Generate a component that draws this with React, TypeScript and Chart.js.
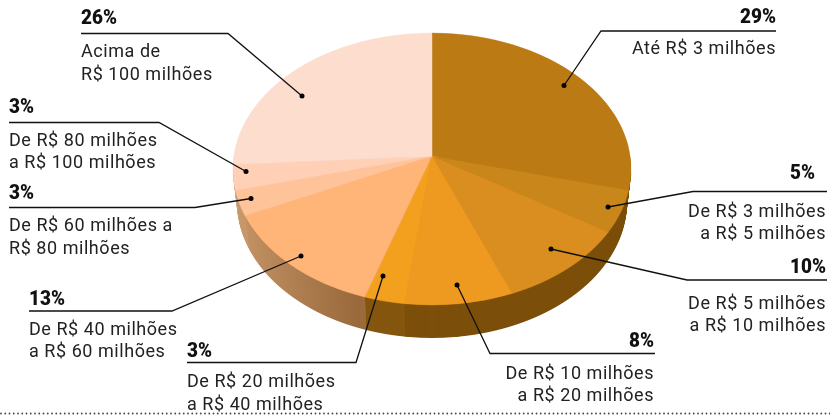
import React, { useEffect, useRef } from "react";
import { Chart, registerables } from "chart.js";

Chart.register(...registerables);

const categories = [
  "Até R$ 3 milhões",
  "De R$ 3 milhões a R$ 5 milhões",
  "De R$ 5 milhões a R$ 10 milhões",
  "De R$ 10 milhões a R$ 20 milhões",
  "De R$ 20 milhões a R$ 40 milhões",
  "De R$ 40 milhões a R$ 60 milhões",
  "De R$ 60 milhões a R$ 80 milhões",
  "De R$ 80 milhões a R$ 100 milhões",
  "Acima de R$ 100 milhões",
];
const shares = [29, 5, 10, 8, 3, 13, 3, 3, 26];
const faceColors = ["#BC7A15", "#C9861A", "#DA8E1F", "#EE9A20", "#F3A01F", "#FFB478", "#FFC39A", "#FFD0B5", "#FDDDCD"];
const wallColors = ["#7C4F0A", "#7C4F0A", "#7C4F0A", "#7C4F0A", "#85560F", "", "#C8986A", "#D0A884", "#D6B8A6"];
const wallGradientStops = ["#C8986A", "#9A6A3C"];
const WALL_GRADIENT_SLICE = 5;

const percentLabels = ["29%", "5%", "10%", "8%", "3%", "13%", "3%", "3%", "26%"];
const labelLines = [
  ["Até R$ 3 milhões"],
  ["De R$ 3 milhões", "a R$ 5 milhões"],
  ["De R$ 5 milhões", "a R$ 10 milhões"],
  ["De R$ 10 milhões", "a R$ 20 milhões"],
  ["De R$ 20 milhões", "a R$ 40 milhões"],
  ["De R$ 40 milhões", "a R$ 60 milhões"],
  ["De R$ 60 milhões a", "R$ 80 milhões"],
  ["De R$ 80 milhões", "a R$ 100 milhões"],
  ["Acima de", "R$ 100 milhões"],
];

// Callout layout: text anchor, rule and leader end for each slice.
type Callout = { align: "left" | "right"; x: number; pctX: number; pctY: number; ruleY: number; ruleEnd: number; ruleX: number; dot: [number, number]; lineY: number[] };
const callouts: Callout[] = [
  { align: "right", x: 776, pctX: 776, pctY: 23, ruleY: 31, ruleX: 776, ruleEnd: 601, dot: [564, 85.5], lineY: [54] },
  { align: "right", x: 826, pctX: 815, pctY: 179, ruleY: 191.5, ruleX: 827, ruleEnd: 693, dot: [608, 207], lineY: [217, 239] },
  { align: "right", x: 826, pctX: 826, pctY: 273, ruleY: 280, ruleX: 827, ruleEnd: 687, dot: [551, 249], lineY: [309, 331] },
  { align: "right", x: 654, pctX: 654, pctY: 347, ruleY: 353.5, ruleX: 655, ruleEnd: 490, dot: [457, 285], lineY: [379, 401] },
  { align: "left", x: 187, pctX: 187, pctY: 357, ruleY: 362.5, ruleX: 187, ruleEnd: 356, dot: [383, 276], lineY: [387, 410] },
  { align: "left", x: 29, pctX: 29, pctY: 305, ruleY: 311, ruleX: 29, ruleEnd: 172, dot: [301, 256], lineY: [335, 357] },
  { align: "left", x: 9, pctX: 9, pctY: 199, ruleY: 207.5, ruleX: 9, ruleEnd: 195, dot: [251, 198.5], lineY: [231, 254] },
  { align: "left", x: 9, pctX: 9, pctY: 113, ruleY: 122.5, ruleX: 9, ruleEnd: 159, dot: [246, 171.5], lineY: [146, 168] },
  { align: "left", x: 81, pctX: 81, pctY: 24, ruleY: 33.5, ruleX: 81, ruleEnd: 228, dot: [302, 96], lineY: [57, 80] },
];

// Perspective of the disc on the page.
const CX = 432;
const APEX_Y = 156;
const RX = 199;
const K = 0.0956;
const B = 134.7;
const DEPTH = 33;
const WALL_SHRINK = 0.02;

function arcOptions(color: any, border: number) {
  return {
    backgroundColor: color,
    borderColor: color,
    borderWidth: border,
    borderAlign: "center",
    borderDash: [],
    borderDashOffset: 0,
    borderRadius: 0,
    circular: true,
    offset: 0,
    spacing: 0,
    selfJoin: false,
  };
}

function drawLayer(chart: any, depth: number, colors: any[], border: number, lowerOnly: boolean) {
  const ctx: CanvasRenderingContext2D = chart.ctx;
  const arcs = chart.getDatasetMeta(0).data as any[];
  if (!arcs.length) return;
  const sx0 = arcs[0].x;
  const sy0 = arcs[0].y;
  const R = arcs[0].outerRadius;
  const a = RX * Math.sqrt(1 - K * K) * (1 - (WALL_SHRINK * depth) / DEPTH);
  const saved = arcs.map((arc) => arc.options);
  arcs.forEach((arc, i) => (arc.options = arcOptions(colors[i], border)));
  for (let y = 0; y < chart.height; y++) {
    const t = y + 0.5 - APEX_Y - depth;
    const denom = B + K * t;
    const Y = t / denom;
    if (Math.abs(Y) > 1.03 || (lowerOnly && Y < 0)) continue;
    const sx = a / (1 - K * Y);
    const sy = (denom * denom) / B;
    ctx.save();
    ctx.beginPath();
    ctx.rect(0, y, chart.width, 1);
    ctx.clip();
    ctx.setTransform(sx / R, 0, 0, sy / R, CX - (sx / R) * sx0, y + 0.5 - (sy / R) * (sy0 + Y * R));
    arcs.forEach((arc) => arc.draw(ctx));
    ctx.restore();
  }
  arcs.forEach((arc, i) => (arc.options = saved[i]));
}

const perspectivePie = {
  id: "perspectivePie",
  beforeDatasetsDraw(chart: any) {
    const arcs = chart.getDatasetMeta(0).data as any[];
    const colors: any[] = wallColors.slice();
    if (arcs.length) {
      const grad = chart.ctx.createLinearGradient(arcs[0].x - arcs[0].outerRadius, 0, arcs[0].x - 0.35 * arcs[0].outerRadius, 0);
      grad.addColorStop(0, wallGradientStops[0]);
      grad.addColorStop(1, wallGradientStops[1]);
      colors[WALL_GRADIENT_SLICE] = grad;
    }
    for (let d = DEPTH; d >= 1; d--) drawLayer(chart, d, colors, 0, true);
    drawLayer(chart, 0, faceColors, 0.6, false);
    return false;
  },
};

const calloutPlugin = {
  id: "callouts",
  afterDraw(chart: any) {
    const ctx: CanvasRenderingContext2D = chart.ctx;
    ctx.save();
    ctx.textBaseline = "alphabetic";
    callouts.forEach((c, i) => {
      ctx.strokeStyle = "#111";
      ctx.lineWidth = 1.3;
      ctx.beginPath();
      ctx.moveTo(c.ruleX, c.ruleY);
      ctx.lineTo(c.ruleEnd, c.ruleY);
      ctx.lineTo(c.dot[0], c.dot[1]);
      ctx.stroke();
      ctx.fillStyle = "#000";
      ctx.beginPath();
      ctx.arc(c.dot[0], c.dot[1], 2.5, 0, Math.PI * 2);
      ctx.fill();
      ctx.textAlign = c.align;
      ctx.fillStyle = "#111";
      ctx.font = "900 21px Roboto";
      ctx.fillText(percentLabels[i], c.pctX, c.pctY, ctx.measureText(percentLabels[i]).width * 0.9);
      ctx.fillStyle = "#222";
      ctx.font = "400 18px Roboto";
      (ctx as any).letterSpacing = "0.55px";
      labelLines[i].forEach((line, j) => ctx.fillText(line, c.x, c.lineY[j]));
      (ctx as any).letterSpacing = "0px";
    });
    ctx.fillStyle = "#444";
    for (let x = 1; x < 830; x += 4.25) {
      ctx.beginPath();
      ctx.arc(x, 413.5, 0.9, 0, Math.PI * 2);
      ctx.fill();
    }
    ctx.restore();
  },
};

export default function App() {
  const ref = useRef<HTMLCanvasElement>(null);
  useEffect(() => {
    if (!ref.current) return;
    const chart = new Chart(ref.current, {
      type: "pie",
      data: { labels: categories, datasets: [{ data: shares, backgroundColor: faceColors, borderWidth: 0 }] },
      options: {
        animation: false,
        responsive: false,
        plugins: { legend: { display: false }, tooltip: { enabled: false } },
      },
      plugins: [perspectivePie, calloutPlugin],
    } as any);
    return () => chart.destroy();
  }, []);
  return (
    <div style={{ position: "absolute", left: 0, top: 0, width: 830, height: 417, background: "#fff" }}>
      <canvas ref={ref} width={830} height={417} style={{ display: "block" }} />
    </div>
  );
}
